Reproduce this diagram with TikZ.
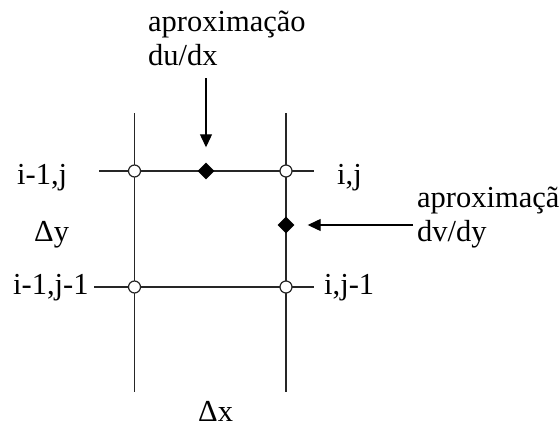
\documentclass[tikz,border=0pt]{standalone}
\usepackage{fontspec}
\setmainfont{Liberation Serif}
\usetikzlibrary{arrows.meta,shapes.geometric}
\begin{document}
\begin{tikzpicture}[x=1pt,y=-1pt,
  gridline/.style={line width=1.2pt, draw=black!85},
  gpt/.style={circle, draw=black!85, fill=white, line width=1.2pt, minimum size=12pt, inner sep=0pt},
  dpt/.style={diamond, fill=black, minimum size=17pt, inner sep=0pt},
  arr/.style={line width=1.2pt, -{Triangle[length=13pt,width=12pt]}},
  lbl/.style={anchor=base west, inner sep=0pt, font=\fontsize{30.5}{34}\selectfont}]
\useasboundingbox (0,0) rectangle (559,428);
% grid line end points
\coordinate (tl) at (99,171);
\coordinate (tr) at (314,171);
\coordinate (bl) at (94,287);
\coordinate (br) at (314,287);
\coordinate (lt) at (134.5,113);
\coordinate (lb) at (134.5,392);
\coordinate (rt) at (286,113);
\coordinate (rb) at (286,392);
\draw[gridline] (tl) -- (tr);
\draw[gridline] (bl) -- (br);
\draw[gridline] (lt) -- (lb);
\draw[gridline] (rt) -- (rb);
% grid points
\node[gpt] (p11) at (134.5,171) {};
\node[gpt] (p21) at (286,171) {};
\node[gpt] (p10) at (134.5,287) {};
\node[gpt] (p20) at (286,287) {};
% approximation points
\node[dpt] (du) at (206,171) {};
\node[dpt] (dv) at (286,225) {};
% arrows
\coordinate (a1) at (206,78);
\coordinate (a2) at (413,225);
\draw[arr] (a1) -- ([yshift=15pt]du.north);
\draw[arr] (a2) -- ([xshift=13pt]dv.east);
% labels
\node[lbl] (t1) at (148,32) {aproximação};
\node[lbl] (t2) at (148,65) {du/dx};
\node[lbl] (r1) at (417,207) {aproximação};
\node[lbl] (r2) at (417,241) {dv/dy};
\node[lbl] (l11) at (17,184) {i-1,j};
\node[lbl] (l21) at (337,184) {i,j};
\node[lbl] (l10) at (13,294) {i-1,j-1};
\node[lbl] (l20) at (324,294) {i,j-1};
\node[lbl] (dy) at (34,241) {Δy};
\node[lbl] (dx) at (198,421) {Δx};
\end{tikzpicture}
\end{document}
